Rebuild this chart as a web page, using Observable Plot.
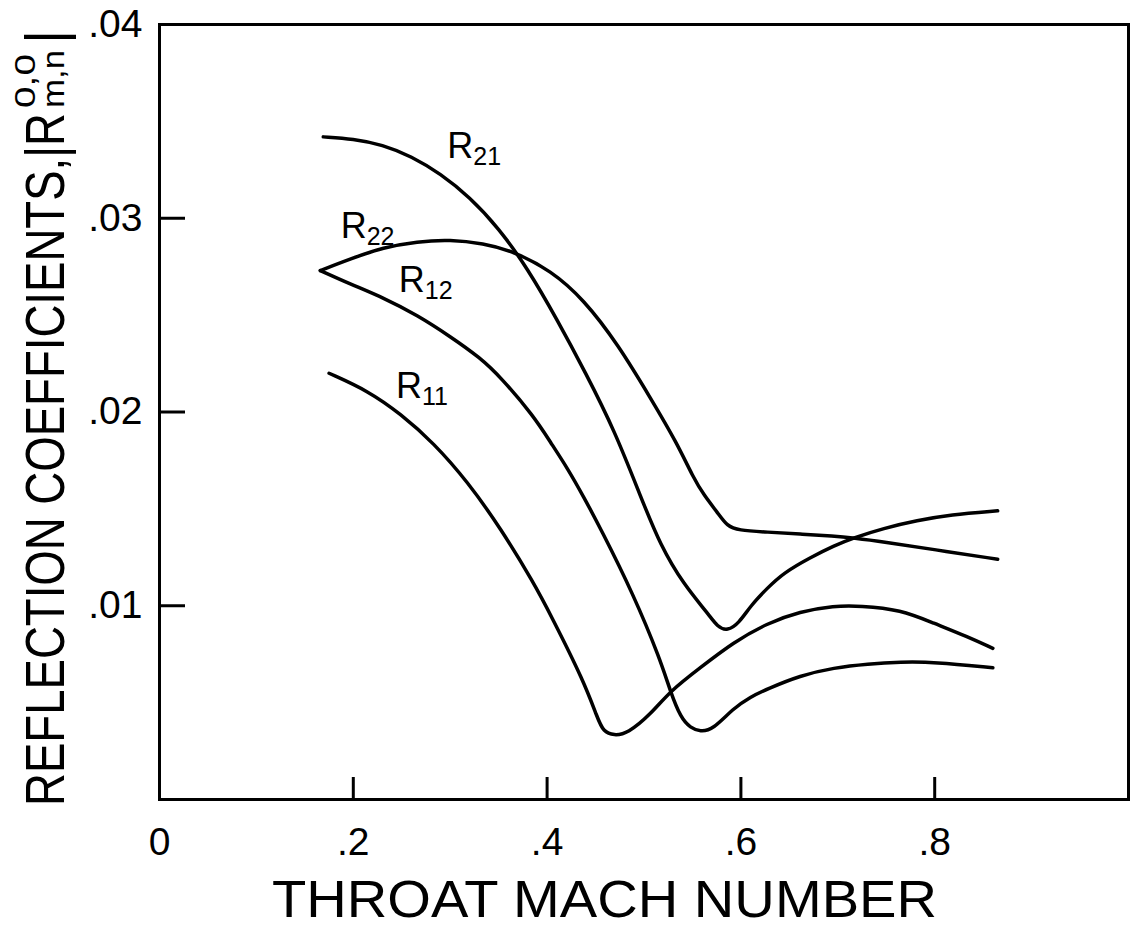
<!DOCTYPE html>
<html><head><meta charset="utf-8">
<script src="https://cdn.jsdelivr.net/npm/d3@7"></script>
<script src="https://cdn.jsdelivr.net/npm/@observablehq/plot@0.6"></script>
<style>html,body{margin:0;padding:0;background:#fff}svg{display:block}</style>
</head><body><div id="chart"></div>
<script>
// ---- data ----
const R21_x = [0.169, 0.200, 0.230, 0.260, 0.290, 0.320, 0.350, 0.380, 0.410, 0.440, 0.470, 0.496, 0.517, 0.541, 0.566, 0.576, 0.586, 0.598, 0.610, 0.627, 0.644, 0.672, 0.696, 0.716, 0.747, 0.782, 0.816, 0.865];
const R21_y = [0.0342, 0.0341, 0.0338, 0.0332, 0.0323, 0.0311, 0.0295, 0.0274, 0.0248, 0.0220, 0.0190, 0.0157, 0.0131, 0.0111, 0.0096, 0.0089, 0.0087, 0.0091, 0.0100, 0.0109, 0.0117, 0.0125, 0.0131, 0.0135, 0.0140, 0.0144, 0.0147, 0.0149];

const R22_x = [0.166, 0.197, 0.231, 0.266, 0.300, 0.334, 0.365, 0.404, 0.438, 0.473, 0.507, 0.534, 0.551, 0.562, 0.576, 0.586, 0.597, 0.627, 0.661, 0.696, 0.716, 0.747, 0.799, 0.865];
const R22_y = [0.0273, 0.0279, 0.0285, 0.0288, 0.0289, 0.0287, 0.0283, 0.0273, 0.0258, 0.0235, 0.0207, 0.0184, 0.0166, 0.0157, 0.0148, 0.0141, 0.0139, 0.0138, 0.0137, 0.0136, 0.0135, 0.0133, 0.0129, 0.0124];

const R12_x = [0.166, 0.197, 0.231, 0.266, 0.300, 0.331, 0.352, 0.386, 0.404, 0.421, 0.438, 0.455, 0.489, 0.517, 0.527, 0.538, 0.548, 0.558, 0.571, 0.592, 0.610, 0.627, 0.661, 0.696, 0.731, 0.765, 0.799, 0.860];
const R12_y = [0.0273, 0.0266, 0.0259, 0.0250, 0.0239, 0.0228, 0.0218, 0.0198, 0.0184, 0.0171, 0.0156, 0.0140, 0.0106, 0.0072, 0.0056, 0.0042, 0.0037, 0.0035, 0.0036, 0.0047, 0.0053, 0.0057, 0.0064, 0.0068, 0.0070, 0.0071, 0.0071, 0.0068];

const R11_x = [0.175, 0.215, 0.249, 0.283, 0.318, 0.352, 0.386, 0.404, 0.438, 0.452, 0.458, 0.469, 0.483, 0.507, 0.527, 0.558, 0.592, 0.627, 0.661, 0.696, 0.723, 0.765, 0.799, 0.834, 0.860];
const R11_y = [0.0220, 0.0211, 0.0199, 0.0184, 0.0164, 0.0140, 0.0112, 0.0095, 0.0061, 0.0042, 0.0035, 0.0033, 0.0034, 0.0044, 0.0056, 0.0068, 0.0081, 0.0091, 0.0097, 0.0100, 0.0100, 0.0098, 0.0091, 0.0084, 0.0078];

const xTicks = [0, 0.2, 0.4, 0.6, 0.8];
const xTickLabels = ["0", ".2", ".4", ".6", ".8"];
const yTicks = [0.01, 0.02, 0.03, 0.04];
const yTickLabels = [".01", ".02", ".03", ".04"];

const labelNames = ["R", "R", "R", "R"];
const labelSubs = ["21", "22", "12", "11"];
const labelX = [0.297, 0.187, 0.247, 0.244];
const labelY = [0.0331, 0.0290, 0.0262, 0.0207];

const xTitle = "THROAT MACH NUMBER";
const yTitleMain = "REFLECTION COEFFICIENTS,|R";
const yTitleSup = "0,0";
const yTitleSub = "m,n";
const yTitleEnd = "|";

// ---- build ----
const FONT = "'Liberation Sans', Arial, sans-serif";
const width = 1130, height = 928;
const mL = 159, mR = 2, mT = 24, mB = 129;
const plotW = width - mL - mR, plotH = height - mT - mB;

function series(name, xs, ys) { return xs.map((x, i) => ({series: name, x, y: ys[i]})); }
const data = [
  ...series("R21", R21_x, R21_y),
  ...series("R22", R22_x, R22_y),
  ...series("R12", R12_x, R12_y),
  ...series("R11", R11_x, R11_y)
];
const curveLabels = labelSubs.map((s, i) => ({main: labelNames[i], sub: s, x: labelX[i], y: labelY[i]}));

const chart = Plot.plot({
  width, height,
  marginLeft: mL, marginRight: mR, marginTop: mT, marginBottom: mB,
  x: {domain: [0, 1], axis: null},
  y: {domain: [0, 0.04], axis: null},
  style: {fontFamily: FONT, background: "white", color: "black", overflow: "visible"},
  marks: [
    Plot.frame({stroke: "black", strokeWidth: 3}),
    Plot.ruleX(xTicks.filter(d => d > 0), {x: d => d, insetTop: plotH - 22, stroke: "black", strokeWidth: 3}),
    Plot.ruleY(yTicks.filter(d => d < 0.04), {y: d => d, insetRight: plotW - 26, stroke: "black", strokeWidth: 3}),
    Plot.text(xTicks, {x: d => d, text: (d, i) => xTickLabels[i], frameAnchor: "bottom", lineAnchor: "bottom", dy: 55, fontSize: 39, fill: "black"}),
    Plot.text(yTicks, {y: d => d, text: (d, i) => yTickLabels[i], frameAnchor: "left", textAnchor: "end", dx: -17, fontSize: 39, fill: "black"}),
    Plot.line(data, {x: "x", y: "y", z: "series", curve: "basis", stroke: "black", strokeWidth: 3.5}),
    Plot.text(curveLabels, {x: "x", y: "y", text: "main", textAnchor: "start", lineAnchor: "bottom", fontSize: 36, fill: "black"}),
    Plot.text(curveLabels, {x: "x", y: "y", text: "sub", textAnchor: "start", lineAnchor: "bottom", dx: 26, dy: 7, fontSize: 25, fill: "black"})
  ]
});

document.getElementById("chart").appendChild(chart);

// ---- axis titles (text with sub/superscripts) ----
const svg = d3.select(chart);
svg.append("text")
  .attr("x", 272).attr("y", 917).attr("text-anchor", "start")
  .attr("font-family", FONT).attr("font-size", 52).attr("fill", "black")
  .attr("textLength", 665).attr("lengthAdjust", "spacingAndGlyphs")
  .text(xTitle);

function vtext(px, py, size, str, len) {
  const t = svg.append("text")
    .attr("transform", `translate(${px},${py}) rotate(-90)`)
    .attr("x", 0).attr("y", 0).attr("text-anchor", "start")
    .attr("font-family", FONT).attr("font-size", size).attr("fill", "black")
    .text(str);
  if (len) t.attr("textLength", len).attr("lengthAdjust", "spacingAndGlyphs");
  return t;
}
vtext(64, 806, 55, yTitleMain, 693);
vtext(35, 108, 30, yTitleSup, 54);
vtext(64, 108, 32, yTitleSub, 58);
vtext(64, 44, 55, yTitleEnd, null);
</script>
</body></html>
